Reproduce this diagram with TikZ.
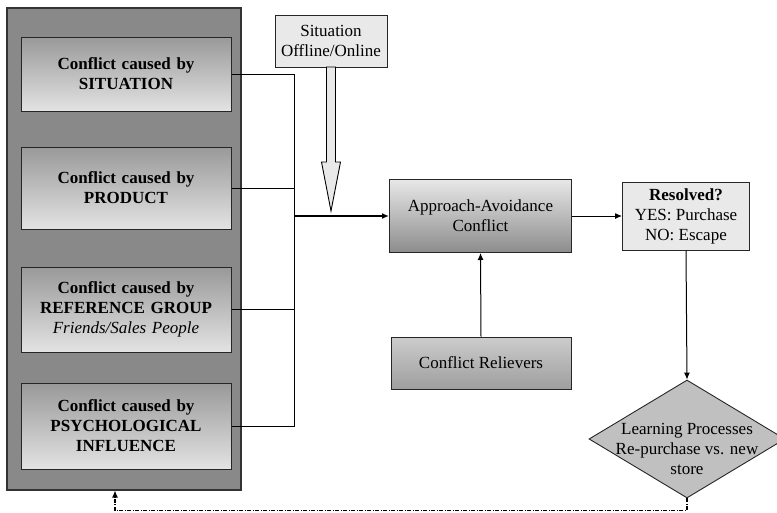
\documentclass[tikz,border=0pt]{standalone}
\usepackage{fontspec}
\setmainfont{Liberation Serif}
\usepackage{tikz}
\usetikzlibrary{positioning, shapes, arrows.meta}

\definecolor{panelgray}{HTML}{898989}
\definecolor{lightbox}{HTML}{E9E9E9}
\definecolor{diamondgray}{HTML}{C0C0C0}

\begin{document}
\begin{tikzpicture}[x=1pt, y=-1pt,
    every node/.style={font=\fontsize{17}{20}\selectfont, align=center, inner sep=0pt},
    cause/.style={draw=black!85, line width=1pt, top color=black!40, bottom color=black!11, minimum width=210, text width=200},
    central/.style={draw=black!85, line width=1pt, top color=black!9, bottom color=black!45, minimum width=182},
    plain/.style={draw=black!85, line width=1pt, fill=lightbox},
    link/.style={line width=1pt},
    arr/.style={line width=1pt, -{Latex[length=7pt, width=6pt]}}]
                \useasboundingbox (0,0) rectangle (777,512);
                % left panel with the four causes
                \draw[line width=1.2pt, draw=black!80, fill=panelgray] (7,8) rectangle (241,490);
                \node[cause, minimum height=74] (situation) at (126,74) {\textbf{Conflict caused by}\\\textbf{SITUATION}};
                \node[cause, minimum height=82] (product) at (126,188) {\textbf{Conflict caused by}\\\textbf{PRODUCT}};
                \node[cause, minimum height=85] (refgroup) at (126,309.5) {\textbf{Conflict caused by}\\\textbf{REFERENCE GROUP}\\\textit{Friends/Sales People}};
                \node[cause, minimum height=86] (psycho) at (126,426) {\textbf{Conflict caused by}\\\textbf{PSYCHOLOGICAL}\\\textbf{INFLUENCE}};
                \node[plain, minimum width=112, minimum height=52] (offon) at (331,41) {Situation\\Offline/Online};
                \node[central, minimum height=73] (approach) at (480.5,216) {Approach-Avoidance\\Conflict};
                \node[central, minimum width=180, minimum height=52, top color=black!20, bottom color=black!38] (relievers) at (481,363) {Conflict Relievers};
                \node[plain, minimum width=127, minimum height=68] (resolved) at (686,216) {\textbf{Resolved?}\\YES: Purchase\\NO: Escape};
                \node[diamond, draw=black!85, line width=0.9pt, fill=diamondgray, minimum width=196, minimum height=118,
                      label={[yshift=-10pt]center:Learning Processes\\Re-purchase vs. new\\store}] (learning) at (687,439) {};
                \coordinate (bus) at (294,216);
                \coordinate (back) at (115,510.5);
                % connectors
                \draw[link] (situation.east) -| (bus);
                \draw[link] (psycho.east) -| (bus);
                \draw[link] (product.east) -- (product.east -| bus);
                \draw[link] (refgroup.east) -- (refgroup.east -| bus);
                \draw[arr, line width=1.8pt] (bus) -- (approach.west);
                \draw[line width=0.9pt, fill=lightbox] (326.5,67) -- (326.5,162) -- (321.5,162) -- (331,211) -- (340.5,162) -- (335.5,162) -- (335.5,67) -- cycle;
                \draw[arr] (relievers.north) -- (approach.south);
                \draw[arr] (approach.east) -- (resolved.west);
                \draw[arr] (resolved.south) -- (learning.north);
                \draw[arr, line width=1.1pt, dash pattern=on 4pt off 1.5pt on 1pt off 1.5pt] (learning.south) |- (back) -- (115,490.5);
            \end{tikzpicture}
\end{document}
